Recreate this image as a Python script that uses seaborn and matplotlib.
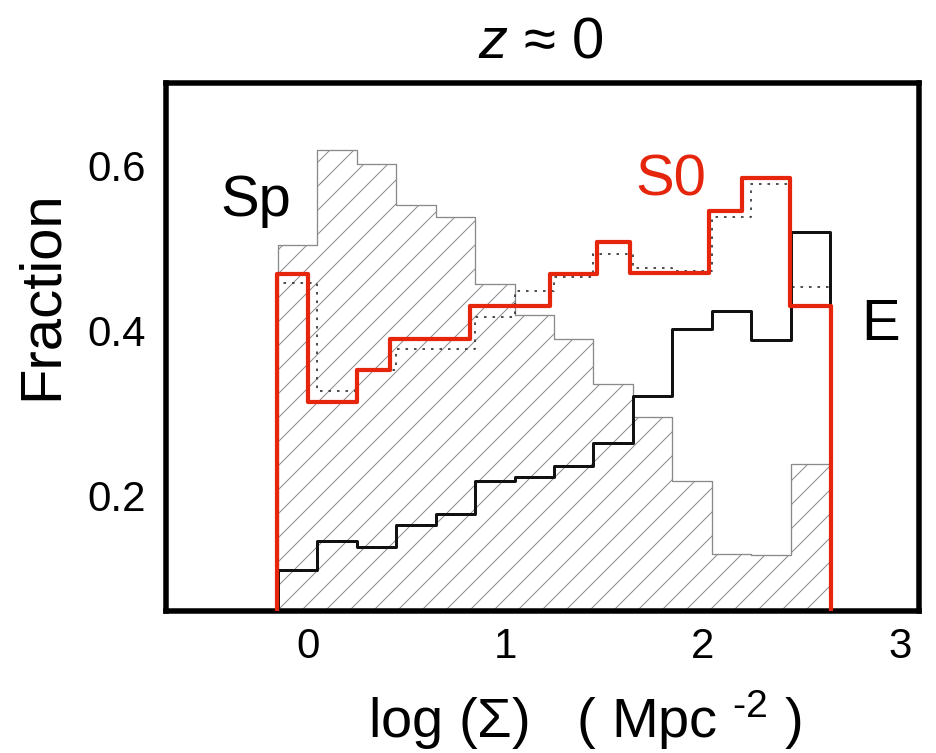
import numpy as np
import matplotlib
matplotlib.use("Agg")
import matplotlib.pyplot as plt
import seaborn as sns

# ---------------- data ----------------
bin_edges = [-0.155, 0.045, 0.245, 0.445, 0.645, 0.845, 1.045, 1.245,
             1.445, 1.645, 1.845, 2.045, 2.245, 2.445, 2.645]
sp_frac = [0.504, 0.619, 0.602, 0.552, 0.537, 0.456, 0.419, 0.390,
           0.335, 0.295, 0.217, 0.128, 0.127, 0.238]
e_frac = [0.109, 0.144, 0.137, 0.164, 0.177, 0.217, 0.222, 0.235,
          0.263, 0.320, 0.402, 0.423, 0.388, 0.519]
s0_dotted = [0.457, 0.326, 0.352, 0.377, 0.377, 0.416, 0.448, 0.465,
             0.493, 0.476, 0.472, 0.538, 0.577, 0.453]
s0_edges = [-0.16, 0.0, 0.245, 0.415, 0.82, 1.225, 1.465, 1.63,
            2.03, 2.2, 2.44, 2.65]
s0_frac = [0.468, 0.313, 0.352, 0.390, 0.429, 0.468, 0.507, 0.469,
           0.545, 0.585, 0.430]
x_ticks = [0, 1, 2, 3]
y_ticks = [0.2, 0.4, 0.6]
y_ticklabels = ["0.2", "0.4", "0.6"]

RED = "#e5250c"

sns.set_style("white")
plt.rcParams["font.family"] = ["Liberation Sans", "DejaVu Sans"]
plt.rcParams["mathtext.fontset"] = "custom"
plt.rcParams["mathtext.rm"] = "Liberation Sans"
plt.rcParams["mathtext.it"] = "Liberation Sans:italic"
plt.rcParams["hatch.color"] = "#666666"
plt.rcParams["hatch.linewidth"] = 1.0
plt.rcParams["text.color"] = "black"
plt.rcParams["xtick.color"] = "black"
plt.rcParams["ytick.color"] = "black"
plt.rcParams["xtick.labelcolor"] = "black"
plt.rcParams["ytick.labelcolor"] = "black"

W, H, DPI = 936, 753, 72
fig = plt.figure(figsize=(W / DPI, H / DPI), dpi=DPI)
ax = fig.add_axes([165.5 / W, 1 - 610.5 / H, (919 - 165.5) / W, (610.5 - 83) / H])


def step_outline(edges, vals, base=0.0):
    xs = np.repeat(np.asarray(edges, float), 2)
    ys = np.concatenate([[base], np.repeat(np.asarray(vals, float), 2), [base]])
    return xs, ys


# hatched spiral histogram
centers = 0.5 * (np.array(bin_edges[:-1]) + np.array(bin_edges[1:]))
sns.histplot(x=centers, weights=sp_frac, bins=bin_edges, element="step",
             fill=True, facecolor="white", edgecolor="#8a8a8a", linewidth=1.3,
             hatch="/", ax=ax, zorder=1)

# dotted S0 histogram
xs, ys = step_outline(bin_edges, s0_dotted)
sns.lineplot(x=xs, y=ys, sort=False, estimator=None, color="#333333",
             linewidth=1.7, linestyle=(0, (1.5, 3.5)), ax=ax, zorder=2)

# E histogram
xs, ys = step_outline(bin_edges, e_frac)
sns.lineplot(x=xs, y=ys, sort=False, estimator=None, color="#111111",
             linewidth=3.0, ax=ax, zorder=3)

# S0 red histogram
xs, ys = step_outline(s0_edges, s0_frac)
sns.lineplot(x=xs, y=ys, sort=False, estimator=None, color=RED,
             linewidth=4.2, ax=ax, zorder=4)

ax.set_xlim(-0.724, 3.095)
ax.set_ylim(0.06, 0.70)
ax.set_xticks(x_ticks)
ax.set_xticklabels([str(t) for t in x_ticks])
ax.set_xticks(np.arange(-0.7, 3.1, 0.1), minor=True)
ax.set_yticks(y_ticks)
ax.set_yticklabels(y_ticklabels)
ax.tick_params(axis="x", which="major", direction="in", length=8, width=1.5,
               color="#333333", pad=16, labelsize=42)
ax.tick_params(axis="x", which="minor", direction="out", length=4, width=1,
               color="#999999")
ax.tick_params(axis="y", length=0, pad=20, labelsize=42)
ax.set_xlabel("")
ax.set_ylabel("")
for s in ax.spines.values():
    s.set_linewidth(5.5)
    s.set_color("black")
    s.set_visible(True)

# in-plot labels
ax.text(-0.448, 0.539, "Sp", fontsize=58, color="black", ha="left", va="baseline")
ax.text(1.655, 0.564, "S0", fontsize=58, color=RED, ha="left", va="baseline")
ax.text(2.80, 0.388, "E", fontsize=58, color="black", ha="left", va="baseline")

fig.text(541 / W, 1 - 57 / H, r"$z$ ≈ 0", fontsize=58, ha="center", va="baseline")
fig.text(585 / W, 1 - 738 / H, r"log (Σ)   ( Mpc $^{\text{-2}}$ )", fontsize=56,
         ha="center", va="baseline")
fig.text(42 / W, 1 - 295 / H, "Fraction", fontsize=58, rotation=90,
         ha="center", va="center")

fig.savefig("out.png", dpi=DPI)
